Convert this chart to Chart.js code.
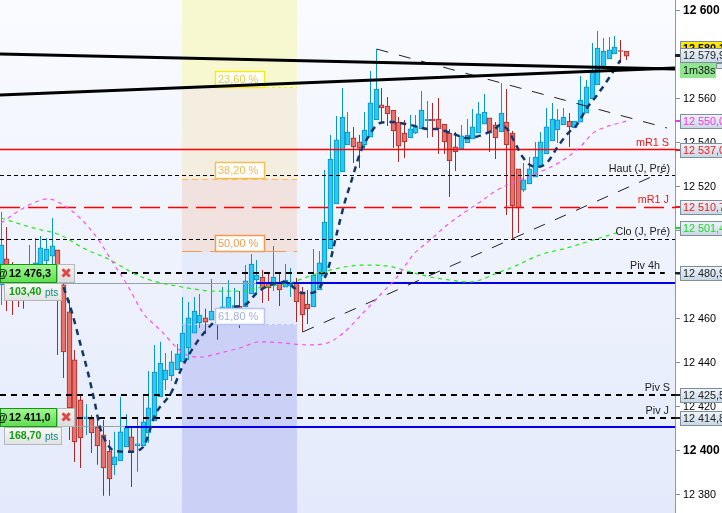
<!DOCTYPE html>
<html>
<head>
<meta charset="utf-8">
<title>CFD chart</title>
<script src="https://cdn.jsdelivr.net/npm/chart.js@4/dist/chart.umd.min.js"></script>
<style>
  html, body { margin: 0; padding: 0; background: #fff; overflow: hidden; }
  canvas { display: block; }
</style>
</head>
<body>
<canvas id="myChart" width="722" height="513"></canvas>
<script>
// candles
const opens = [12475.5,12487.3,12482.3,12481.4,12481.4,12473.2,12475.5,12482.3,12486.4,12488.6,
  12491.4,12475.5,12463.2,12441.4,12423.2,12414.6,12414.6,12410.9,12407.3,12400,
  12393.7,12395.5,12401.8,12406.4,12402.3,12402.3,12408.2,12413.7,12424.6,12432.3,
  12434.1,12436.8,12440.5,12446.8,12453.6,12458.2,12460.5,12459.5,12461.8,12459.5,
  12460.5,12464.6,12465.9,12465.5,12471.4,12477.7,12479.1,12476.8,12475,12476.8,
  12474.5,12475,12476.4,12471.8,12466.8,12465.5,12473.2,12479.5,12491.8,12512.3,
  12526.8,12539.1,12542.3,12540.5,12539.1,12542.7,12550.5,12557.3,12556.8,12555,
  12549.5,12544.5,12542.3,12544.5,12546.4,12550.2,12550.7,12550.9,12548.6,12544.5,
  12538.2,12537.3,12540,12541.8,12544.5,12548.6,12551.4,12548.2,12545,12549.5,
  12544.5,12528.2,12518.6,12521.4,12524.5,12529.1,12535,12540.9,12545.9,12548.2,
  12550,12546.8,12549.5,12553.6,12560,12566.4,12574.1,12578.2,12580.5,12582,12581.8];
const closes = [12493.6,12473.2,12472.3,12473.2,12472.3,12483.2,12485.5,12492.3,12491.8,12493.2,
  12473.2,12445,12419.6,12404.1,12405.9,12415.5,12408.2,12402.3,12392.3,12387.3,
  12397.3,12408.7,12410.5,12399.6,12403.2,12413.2,12419.6,12435.9,12440,12436.8,
  12440.5,12444.1,12453.6,12460.5,12463.6,12461.8,12458.6,12463.6,12459.5,12465.5,
  12470,12466.1,12464.6,12477.3,12485,12480,12474.1,12474.1,12479.1,12473.2,
  12477.7,12475.9,12467.7,12461.8,12464.6,12480,12485.5,12504.1,12532.7,12541.4,
  12551.8,12545,12538.2,12537.7,12545.9,12558.2,12564.5,12555.9,12553.2,12545.5,
  12538.6,12540.5,12546.4,12547.7,12555,12550.7,12550.2,12546.4,12540.5,12531.8,
  12535.9,12543.2,12543.6,12547.3,12553.2,12554.1,12544.5,12542.3,12553.6,12539.1,
  12511.4,12510.5,12523.2,12528.2,12533.6,12540.5,12547.3,12550.9,12550.5,12551.8,
  12547.3,12550,12559.5,12565.5,12572.3,12583.2,12581.8,12582.3,12583.6,12581.6,12579.5];
const highs = [12508.6,12501.8,12485.9,12484.5,12484.1,12493.6,12496.8,12497.7,12496.8,12505.9,
  12491.4,12480,12468.7,12445.9,12425.5,12421.4,12416.4,12415,12414.1,12405,
  12408.7,12424.6,12416.8,12410.5,12414.6,12425,12436.4,12448.2,12449.6,12444.5,
  12445.5,12448.6,12470,12467.7,12470,12471.4,12464.6,12478.2,12464.1,12474.5,
  12477.7,12474.1,12472.7,12484.5,12489.5,12486.8,12482.3,12481,12493.2,12481.4,
  12485,12483.2,12478.6,12474.5,12473.2,12491.8,12490.9,12527.7,12543.6,12552.3,
  12565,12554.1,12547.3,12543.6,12554.1,12572.7,12582.7,12565,12560.9,12555,
  12551.8,12550.5,12552.7,12552.7,12563.6,12559.1,12558.2,12560.5,12548.6,12546.4,
  12545,12548.2,12550.9,12555.5,12558.6,12562.3,12551.4,12549.5,12567.3,12564.5,
  12545.5,12528.2,12530.9,12533.6,12540.5,12545,12555.9,12558.2,12555.5,12555.9,
  12553.6,12550,12570.5,12568.6,12585.5,12590.9,12587.7,12588.2,12588.6,12586.8,12581.8];
const lows = [12466.4,12463.6,12461.8,12465.5,12464.6,12470.9,12473.2,12480,12481.4,12484.5,
  12443.6,12433.2,12405,12395,12392.3,12407.3,12399.1,12393.7,12379.6,12379.6,
  12389.1,12395.5,12401.8,12383.6,12390.5,12402.3,12403.7,12413.7,12424.6,12427.7,
  12431.8,12436.8,12440.5,12441.4,12453.6,12455.9,12453.2,12459.5,12450.5,12459.5,
  12460.5,12464.1,12455.9,12465.5,12471.4,12471.8,12467.3,12468.2,12472.7,12465.9,
  12474.5,12470,12458.6,12454.1,12457.7,12465.5,12473.2,12479.5,12491.8,12512.3,
  12526.8,12539.1,12530.9,12528.6,12536.8,12542.7,12550.5,12549.1,12547.7,12537.7,
  12531.4,12533.2,12542.3,12544.1,12546.4,12542.3,12542.7,12535,12535,12515.5,
  12527.3,12537.3,12540,12541.8,12544.5,12548.6,12535.9,12532.7,12545,12507.3,
  12495.9,12499.1,12517.7,12521.4,12524.5,12529.1,12535,12540.9,12540,12548.2,
  12538.2,12546.8,12549.5,12553.6,12560,12566.4,12574.1,12578.2,12580.5,12576.4,12577.7];

// moving averages, [candle index] and [price]
const navyX = [11,12.5,14,15.3,16.5,17.4,18.8,20,22.7,25,27.1,30,31.8,34.5,37.3,40.3,42.9,45.2,47.3,50,51.4,53,54.4,56,57.5,59.1,60.5,61.6,63.2,64.6,66.7,68.8,72,75.1,76.9,78.6,80.2,81.6,83.4,85.1,86.9,87.8,89.2,90.8,91.8,93.1,94.5,96.2,97.8,99.8,101.3,103.1,104.9,107.1,109];
const navyY = [12474.5,12462.7,12448.2,12435.5,12421.8,12410.9,12402.7,12400,12399.6,12401.8,12416.4,12426.8,12437.7,12449.6,12458.2,12465,12466.4,12472.3,12475.5,12476.8,12474.5,12471.8,12471.8,12474.1,12482.3,12499.1,12513.2,12522.3,12535.5,12542.7,12549.1,12549.5,12548.2,12546.4,12546.4,12545,12543.6,12542.3,12542.7,12544.1,12546.4,12548.2,12545.9,12538.2,12533.6,12530,12529.1,12531.4,12537.7,12544.5,12548.2,12555.9,12561.8,12570,12577.7];
const greenX = [0,5.6,10.4,14.4,19.2,23.2,26.2,32,37.3,42,46.1,50.8,54.9,59.6,63.7,67.9,72,75.5,79,82.5,84.3,87.3,90.1,94.8,99.6,104.2,108.9];
const greenY = [12505.9,12501.4,12498.2,12492.3,12486.8,12480.9,12477.7,12474.5,12472.7,12472.7,12474.5,12476.4,12480,12483.2,12484.5,12484.1,12481.4,12479.1,12477.7,12476.8,12477.7,12480.9,12483.6,12489.1,12492.3,12495.9,12499.6];
const pinkX = [0,2.8,5.6,8.3,10.9,13.9,16.9,19.7,22.2,25,28,31,32.7,35,38.5,42,45.6,49.6,53.8,57.4,60.2,63.7,66.7,69.7,72.5,75.5,78.5,82.2,84.3,87.3,91.3,94.8,98.4,101.9,104.2,105.9,110.1];
const pinkY = [12503.6,12508.6,12512.7,12514.6,12511.8,12505.9,12496.8,12485.5,12475.5,12462.7,12455,12446.8,12443.6,12442.7,12444.5,12446.8,12449.6,12449.1,12448.2,12449.1,12453.6,12462.7,12470.9,12479.1,12489.1,12495.9,12502.7,12509.6,12513.2,12518.6,12523.2,12526.8,12531.4,12538.2,12544.5,12546.8,12550];

// levels
const lvlR1S = 12537, lvlHaut = 12525, lvlR1J = 12510.7, lvlClo = 12496.2;
const lvlPiv4h = 12480.9, lvlPivS = 12425.5, lvlPivJ = 12414.8;
const order1 = 12476.3, order2 = 12411.0;
const order1Pts = "103,40", order2Pts = "168,70";

// trend lines: [x0, x1], [y0, y1]
const wedgeTopX = [-0.19,118.6], wedgeTopY = [12580.5,12573.6];
const wedgeLowX = [-0.19,118.6], wedgeLowY = [12561.8,12574.1];
const fallX = [66.1,117.2], fallY = [12582.7,12546.8];
const riseX = [53.1,116.8], riseY = [12454.1,12527.3];

// fibonacci zone
const fibX = [31.83,52.07];
const fibEdges = [12605,12565,12523.6,12490.5,12457.3,12371.8];
const fibNames = ["23,60 %","38,20 %","50,00 %","61,80 %"];

// price tags on the axis
const tagPrices = [12580.1,12550,12537,12510.7,12501.4,12480.9,12425.5,12414.8,12579.9];
const tagTexts = ["12 580,1","12 550,0","12 537,0","12 510,7","12 501,4","12 480,9","12 425,5","12 414,8","12 579,9"];
const tagColors = ["#000","#ff33e0","#f01818","#f01818","#1fd81f","#222","#222","#222","#222"];
const timerText = "1m38s";

const yMin = 12371.8, yMax = 12605, xMin = -0.19, xMax = 118.6;
const FONT = '"Liberation Sans", Arial, sans-serif';

const xy = (xs, ys) => xs.map((x, i) => ({ x: x, y: ys[i] }));
const isUp = i => closes[i] >= opens[i];

function hline(level, color, width, dash, x0 = xMin, x1 = xMax) {
  return {
    type: 'line', data: xy([x0, x1], [level, level]), borderColor: color, borderWidth: width,
    borderDash: dash || [], pointRadius: 0, order: 3, snap: true
  };
}

function curve(xs, ys, color, width, dash, order) {
  return {
    type: 'line', data: xy(xs, ys), borderColor: color, borderWidth: width, borderDash: dash,
    pointRadius: 0, cubicInterpolationMode: 'monotone', order: order
  };
}

function segment(xs, ys, color, width, dash, order) {
  return { type: 'line', data: xy(xs, ys), borderColor: color, borderWidth: width, borderDash: dash || [], pointRadius: 0, order: order };
}

// one band of the fib zone, from fibEdges[k] to fibEdges[k + 1]
function band(k, color) {
  return {
    type: 'line', data: xy(fibX, [fibEdges[k], fibEdges[k]]), borderWidth: 0, pointRadius: 0,
    backgroundColor: color, fill: { value: fibEdges[k + 1] }, order: 20
  };
}

const idx = opens.map((_, i) => i);

const datasets = [
  band(0, '#f7f8d0'), band(1, '#f4eee0'), band(2, '#f2e2df'), band(3, '#e6ebfb'), band(4, '#cbd0f7'),
  {
    type: 'bar', grouped: false, barThickness: 1, order: 6, borderWidth: 0, inflateAmount: 0,
    data: idx.map(i => ({ x: i, y: [lows[i], highs[i]] })),
    backgroundColor: idx.map(i => isUp(i) ? '#0a96c8' : '#a82828')
  },
  {
    type: 'bar', grouped: false, barThickness: 5, order: 5, borderWidth: 1, borderSkipped: false,
    data: idx.map(i => ({ x: i, y: [opens[i], closes[i]] })),
    backgroundColor: idx.map(i => isUp(i) ? '#2ac8f5' : '#e8716a'),
    borderColor: idx.map(i => isUp(i) ? '#0a8fc0' : '#a82a2a')
  },
  hline(fibEdges[1], '#f5ee30', 1, [3, 3], fibX[0], fibX[1]),
  hline(fibEdges[2], '#f5be55', 1, [6, 4], fibX[0], fibX[1]),
  hline(fibEdges[3], '#f59a50', 1, [20, 8], fibX[0], fibX[1]),
  hline(fibEdges[4], '#b4c4f4', 1, [3, 3], fibX[0], fibX[1]),
  hline(lvlR1S, '#ff0000', 1.5),
  hline(lvlHaut, '#000', 1, [4, 3]),
  hline(lvlR1J, '#ff0000', 1.5, [20, 8]),
  hline(lvlClo, '#000', 1, [4, 3]),
  hline(lvlPiv4h, '#000', 2, [6, 5], xMin, 116.8),
  hline(lvlPivS, '#000', 2, [6, 5]),
  hline(lvlPivJ, '#000', 2, [6, 5]),
  hline(order1, '#9aa0a8', 1, [], xMin, 44.9),
  hline(order1, '#0000e6', 2, [], 44.9, xMax),
  hline(order2, '#9aa0a8', 1, [], xMin, 21.8),
  hline(order2, '#0000e6', 2, [], 21.8, xMax),
  segment(fallX, fallY, '#222', 1, [12, 11], 2),
  segment(riseX, riseY, '#222', 1, [12, 11], 2),
  curve(pinkX, pinkY, '#ff50ec', 1.2, [4, 4], 1),
  curve(greenX, greenY, '#20e820', 1.2, [4, 4], 1),
  curve(navyX, navyY, '#12386a', 2.5, [6, 5], 0),
  segment(wedgeTopX, wedgeTopY, '#000', 3, [], -1),
  Object.assign(segment(wedgeLowX, wedgeLowY, '#000', 3, [], -1), { fibLabelsBelow: true })
];

function text(ctx, str, x, y, font, color, align) {
  ctx.font = font;
  ctx.fillStyle = color;
  ctx.textAlign = align || 'left';
  ctx.textBaseline = 'middle';
  ctx.fillText(str, x, y);
}

function rrect(ctx, x, y, w, h, fill, stroke, lw) {
  ctx.fillStyle = fill;
  ctx.fillRect(x, y, w, h);
  if (stroke) {
    ctx.strokeStyle = stroke;
    ctx.lineWidth = lw || 1;
    ctx.strokeRect(x + .5, y + .5, w - 1, h - 1);
  }
}

function vGrad(ctx, y0, y1, c0, c1) {
  const g = ctx.createLinearGradient(0, y0, 0, y1);
  g.addColorStop(0, c0);
  g.addColorStop(1, c1);
  return g;
}

// green order ticket on the left
function ticket(ctx, yScale, price, pts) {
  const y = Math.round(yScale.getPixelForValue(price));
  const top = y - 19;
  rrect(ctx, 4, y, 58, 18, vGrad(ctx, y, y + 18, '#fbfbf8', '#dfe2e2'), '#b4b8bc');
  text(ctx, pts, 9, y + 9, 'bold 10.6px ' + FONT, '#13a013');
  text(ctx, 'pts', 45, y + 10, '10px ' + FONT, '#0a8a8a');
  rrect(ctx, 0, top, 57, 19, vGrad(ctx, top, top + 19, '#a8f59a', '#58e048'), '#0f9a0f');
  rrect(ctx, 57, top, 18, 19, vGrad(ctx, top, top + 19, '#f4f4f2', '#d8dadb'), '#b4b8bc');
  text(ctx, '@', -3, top + 10, 'bold 10.8px ' + FONT, '#000');
  text(ctx, price.toFixed(1).replace('.', ',').replace(/^(\d{2})(\d{3})/, '$1 $2'), 9, top + 10, 'bold 10.8px ' + FONT, '#000');
  text(ctx, '\u2716', 66, top + 10, 'bold 14px "DejaVu Sans"', '#e04848', 'center');
}

function fibLabels(ctx, yScale) {
  const colors = ['#f5ee10', '#f5be55', '#f59a50', '#b4c4f4'];
  const inks = ['#ddd040', '#f0b850', '#f59a50', '#a0b0e0'];
  fibNames.forEach((name, k) => {
    const y = Math.round(yScale.getPixelForValue(fibEdges[k + 1]));
    rrect(ctx, 215, y - 17, 50, 17, '#fff', colors[k], 1.5);
    text(ctx, name, 218, y - 8, '11px ' + FONT, inks[k]);
  });
}

const overlay = {
  id: 'overlay',
  beforeDraw(chart) {
    const { ctx, chartArea: a } = chart;
    ctx.fillStyle = vGrad(ctx, a.top, a.bottom, '#f9fbff', '#e4eafb');
    ctx.fillRect(a.left, a.top, a.right - a.left, a.bottom - a.top);
  },
  afterDatasetsUpdate(chart) {
    // keep candles and flat levels on whole pixels
    chart.data.datasets.forEach((ds, k) => {
      const points = chart.getDatasetMeta(k).data;
      if (ds.type === 'bar') points.forEach(el => { el.x = Math.round(el.x - .5) + .5; });
      if (ds.snap) {
        const shift = ds.borderWidth % 2 ? .5 : 0;
        points.forEach(el => { el.y = Math.round(el.y - shift) + shift; });
      }
    });
  },
  beforeDatasetDraw(chart, args) {
    if (chart.data.datasets[args.index].fibLabelsBelow) {
      chart.ctx.save();
      fibLabels(chart.ctx, chart.scales.y);
      chart.ctx.restore();
    }
  },
  afterDraw(chart) {
    const { ctx, scales: { y: yScale } } = chart;
    ctx.save();

    // level captions
    [[lvlR1S, 'mR1 S', '#f01818', 669], [lvlHaut, 'Haut (J, Pré)', '#222', 670], [lvlR1J, 'mR1 J', '#f01818', 669],
     [lvlClo, 'Clo (J, Pré)', '#222', 670], [lvlPiv4h, 'Piv 4h', '#222', 660], [lvlPivS, 'Piv S', '#222', 670],
     [lvlPivJ, 'Piv J', '#222', 669]].forEach(([v, s, c, x]) => {
      text(ctx, s, x, yScale.getPixelForValue(v) - 7, '10.8px ' + FONT, c, 'right');
    });

    ticket(ctx, yScale, order1, order1Pts);
    ticket(ctx, yScale, order2, order2Pts);

    // axis tags, the yellow one sits above the live price
    tagPrices.forEach((p, k) => {
      const y = Math.round(yScale.getPixelForValue(p));
      const first = k === 0;
      const top = first ? y - 14 : y - 7;
      ctx.fillStyle = tagColors[k];
      if (!first) ctx.fillRect(675, y - 1, 6, k === 8 ? 3 : 2);
      const fill = first ? vGrad(ctx, top, top + 15, '#fff000', '#f5c800') : vGrad(ctx, top, top + 15, '#f0f5fb', '#c6d6e4');
      rrect(ctx, 680, top, 46, 15, fill, '#7e8e9a');
      text(ctx, tagTexts[k], 683, top + 8, (first ? 'bold ' : '') + '10.8px ' + FONT, tagColors[k]);
    });

    // countdown
    const ty = Math.round(yScale.getPixelForValue(tagPrices[8])) + 8;
    rrect(ctx, 716, ty, 8, 6, '#d8e2ec', '#7e8e9a');
    rrect(ctx, 680, ty, 36, 15, '#8fe68f');
    text(ctx, timerText, 683, ty + 8, '10.8px ' + FONT, '#111');
    ctx.restore();
  }
};

const chart = new Chart(document.getElementById('myChart'), {
  data: { datasets: datasets },
  plugins: [overlay],
  options: {
    responsive: false,
    animation: false,
    layout: { padding: 0 },
    plugins: { legend: { display: false }, tooltip: { enabled: false } },
    scales: {
      x: { type: 'linear', min: xMin, max: xMax, display: false, offset: false },
      y: {
        position: 'right', min: yMin, max: yMax,
        afterFit(s) { s.width = 47; s.paddingTop = 0; s.paddingBottom = 0; },
        grid: { drawOnChartArea: false, tickLength: 5, color: '#7e8e9a' },
        border: { color: '#8a9bab' },
        ticks: {
          stepSize: 20, includeBounds: false, autoSkip: false, padding: 3, color: '#000',
          font: c => ({ family: FONT, size: c.tick && c.tick.value % 200 === 0 ? 12 : 10.8, weight: c.tick && c.tick.value % 200 === 0 ? 'bold' : 'normal' }),
          callback: v => String(v).replace(/^(\d{2})(\d{3})/, '$1 $2')
        }
      }
    }
  }
});
</script>
</body>
</html>
